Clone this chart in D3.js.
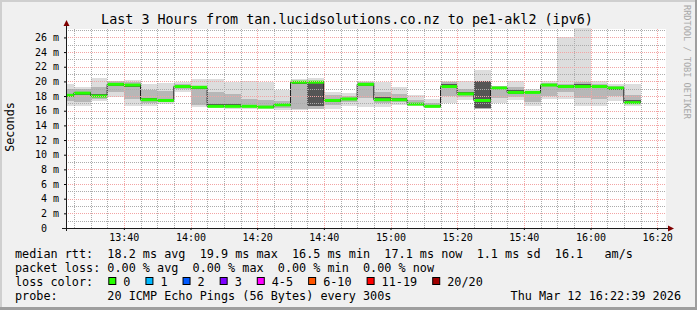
<!DOCTYPE html>
<html>
<head>
<meta charset="utf-8">
<script src="https://cdn.jsdelivr.net/npm/d3@7"></script>
<style>
body { margin: 0; background: #f0f0f0; }
text { font-family: "DejaVu Sans Mono", monospace; fill: #000; }
</style>
</head>
<body>
<div id="chart"></div>
<script>
let wSvg = 697; let hSvg = 310;
let xLeft = 66; let xRight = 666;
let yTop = 29; let yBottom = 228;

// time window (minutes since midnight): 13:22:39 -> 16:22:39
const windowStart = "13:22:39";
const windowEnd = "16:22:39";

// 5 minute buckets, labelled by their end time
const bucketEnd = ["13:25","13:30","13:35","13:40","13:45","13:50","13:55","14:00","14:05","14:10",
    "14:15","14:20","14:25","14:30","14:35","14:40","14:45","14:50","14:55","15:00",
    "15:05","15:10","15:15","15:20","15:25","15:30","15:35","15:40","15:45","15:50",
    "15:55","16:00","16:05","16:10","16:15"];

// median rtt in ms
const median = [18.1,18.4,18.0,19.6,19.5,17.5,17.4,19.3,19.2,16.6,
    16.6,16.6,16.5,16.8,19.9,19.9,17.4,17.6,19.6,17.5,
    17.5,16.9,16.6,19.3,18.3,17.4,19.1,18.5,18.5,19.5,
    19.3,19.3,19.3,19.1,17.1];

// smoke: spread of the 20 pings (ms)
const pingLo  = [16.7,16.6,17.3,17.9,16.7,16.6,16.9,18.6,16.5,16.4,16.3,16.3,16.3,16.1,16.1,16.2,16.2,16.6,16.5,16.5,16.8,16.6,16.4,17.0,17.4,16.2,17.0,17.5,16.7,17.6,17.6,16.6,16.6,17.3,16.6];
const pingQ1  = [17.3,17.2,17.6,18.6,17.6,17.0,17.2,19.0,16.8,16.5,16.5,16.5,16.4,16.4,16.3,16.3,16.8,17.2,17.8,17.0,17.2,16.8,16.5,18.0,17.9,16.3,17.8,17.9,17.2,18.0,18.6,17.8,17.6,18.0,17.0];
const pingIn1 = [17.9,18.2,17.9,19.4,19.3,17.3,17.3,19.2,19.0,16.5,16.5,16.5,16.4,16.7,19.6,16.6,17.2,17.5,19.4,17.3,17.4,16.8,16.5,19.2,18.2,16.4,18.9,18.3,18.4,19.4,19.1,19.2,19.2,18.8,17.0];
const pingIn2 = [18.3,18.6,18.3,19.8,19.7,17.7,17.6,19.4,19.3,16.9,16.9,16.8,16.7,16.9,20.0,20.0,17.5,17.7,19.7,17.9,17.7,17.0,16.8,19.6,18.6,20.0,19.3,18.8,18.6,19.6,19.5,19.6,19.4,19.2,17.4];
const pingQ3  = [18.9,18.9,19.3,20.0,19.9,18.8,18.7,19.6,19.4,18.6,18.3,17.6,17.4,17.3,20.1,20.1,18.1,18.0,19.9,18.6,18.3,17.4,17.0,19.9,19.0,20.1,19.4,19.2,18.7,19.8,19.7,19.9,19.6,19.4,18.1];
const pingHi  = [19.7,19.2,20.4,20.1,20.2,19.7,19.8,19.9,20.3,20.3,19.9,20.0,19.9,18.8,20.3,20.4,18.6,18.4,20.0,19.9,19.2,18.1,17.6,20.0,20.0,21.6,19.4,20.0,18.9,20.1,26.0,27.3,20.0,19.7,19.6];

// lost pings per bucket (out of 20)
const lossCount = [0,0,0,0,0,0,0,0,0,0,0,0,0,0,0,0,0,0,0,0,0,0,0,0,0,0,0,0,0,0,0,0,0,0,0];

const lossLabels = ["0","1","2","3","4-5","6-10","11-19","20/20"];
const lossColors = ["#26ff00","#00b8ff","#0059ff","#7e00ff","#ff00ff","#ff5500","#ff0000","#a10000"];
const lossMax = [0,1,2,3,5,10,19,20];

const yTicks = [0,2,4,6,8,10,12,14,16,18,20,22,24,26];
const xTicks = ["13:40","14:00","14:20","14:40","15:00","15:20","15:40","16:00","16:20"];

const legendLines = [
    "median rtt:  18.2 ms avg  19.9 ms max  16.5 ms min  17.1 ms now  1.1 ms sd  16.1   am/s",
    "packet loss: 0.00 % avg  0.00 % max  0.00 % min  0.00 % now"
];
const probeText = "probe:       20 ICMP Echo Pings (56 Bytes) every 300s";
const stampText = "Thu Mar 12 16:22:39 2026";
const titleText = "Last 3 Hours from tan.lucidsolutions.co.nz to pe1-akl2 (ipv6)";

function toMin(s) {
    let p = s.split(":").map(Number);
    return p[0] * 60 + p[1] + (p[2] || 0) / 60;
}
function fmtMin(m) {
    let h = Math.floor(m / 60), mm = Math.round(m % 60);
    return String(h).padStart(2, "0") + ":" + String(mm).padStart(2, "0");
}

const buckets = bucketEnd.map((t, i) => ({
    end: toMin(t), start: toMin(t) - 5,
    med: median[i], lo: pingLo[i], q1: pingQ1[i], in1: pingIn1[i],
    in2: pingIn2[i], q3: pingQ3[i], hi: pingHi[i], loss: lossCount[i]
}));

let svg = d3.select("#chart")
    .append("svg")
    .attr("width", wSvg)
    .attr("height", hSvg)
    .style("display", "block");

// background + 3d frame
svg.append("rect").attr("width", wSvg).attr("height", hSvg).attr("fill", "#f0f0f0");
svg.append("rect").attr("x", 0).attr("y", 0).attr("width", wSvg).attr("height", 2).attr("fill", "#cfcfcf");
svg.append("rect").attr("x", 0).attr("y", 0).attr("width", 2).attr("height", hSvg).attr("fill", "#cfcfcf");
svg.append("rect").attr("x", 0).attr("y", hSvg - 3).attr("width", wSvg).attr("height", 3).attr("fill", "#9e9e9e");
svg.append("rect").attr("x", wSvg - 2).attr("y", 0).attr("width", 2).attr("height", hSvg).attr("fill", "#9e9e9e");

const xScale = d3.scaleLinear()
    .domain([toMin(windowStart), toMin(windowEnd)])
    .range([xLeft, xRight]);

const yScale = d3.scaleLinear()
    .domain([0, 27.15])
    .range([yBottom, yTop]);

// canvas
svg.append("rect")
    .attr("x", xLeft).attr("y", yTop)
    .attr("width", xRight - xLeft).attr("height", yBottom - yTop)
    .attr("fill", "#ffffff");

svg.append("clipPath").attr("id", "plotClip")
    .append("rect")
    .attr("x", xLeft).attr("y", yTop - 1)
    .attr("width", xRight - xLeft).attr("height", yBottom - yTop + 1);

const plot = svg.append("g").attr("clip-path", "url(#plotClip)");

// smoke, outer to inner
const smokeBands = [
    { a: "lo", b: "hi", color: "#dddddd" },
    { a: "q1", b: "q3", color: "#b7b7b7" },
    { a: "in1", b: "in2", color: "#555555" }
];
smokeBands.forEach(band => {
    plot.append("g")
        .selectAll("rect")
        .data(buckets)
        .enter()
        .append("rect")
        .attr("x", d => xScale(d.start))
        .attr("width", d => xScale(d.end) - xScale(d.start))
        .attr("y", d => yScale(d[band.b]))
        .attr("height", d => yScale(d[band.a]) - yScale(d[band.b]))
        .attr("fill", band.color)
        .attr("shape-rendering", "crispEdges");
});

// median step line
const stepPoints = buckets.map(d => [d.start, d.med]);
stepPoints.push([buckets[buckets.length - 1].end, buckets[buckets.length - 1].med]);
const lineGenerator = d3.line()
    .x(d => xScale(d[0]))
    .y(d => yScale(d[1]))
    .curve(d3.curveStepAfter);
plot.append("path")
    .datum(stepPoints)
    .attr("d", lineGenerator)
    .attr("fill", "none")
    .attr("stroke", "#202020")
    .attr("stroke-width", 1);

function lossColor(n) {
    for (let i = 0; i < lossMax.length; i++) {
        if (n <= lossMax[i]) return lossColors[i];
    }
    return lossColors[lossColors.length - 1];
}

// loss coloured median band
plot.append("g")
    .selectAll("rect")
    .data(buckets)
    .enter()
    .append("rect")
    .attr("x", d => xScale(d.start))
    .attr("width", d => xScale(d.end) - xScale(d.start))
    .attr("y", d => yScale(d.med) - 1.5)
    .attr("height", 3)
    .attr("fill", d => lossColor(d.loss));

// grid (drawn over the graph like rrdtool)
const grid = svg.append("g").attr("stroke-dasharray", "1,1").attr("shape-rendering", "crispEdges");
const minorX = d3.range(toMin("13:25"), toMin(windowEnd), 5);
const majorX = xTicks.map(toMin);
grid.selectAll("line.vmin")
    .data(minorX.filter(m => !majorX.includes(m)))
    .enter().append("line")
    .attr("x1", d => Math.round(xScale(d)) + 0.5).attr("x2", d => Math.round(xScale(d)) + 0.5)
    .attr("y1", yTop).attr("y2", yBottom)
    .attr("stroke", "#ababab");
grid.selectAll("line.hmin")
    .data(d3.range(1, 28).filter(v => v % 2 === 1))
    .enter().append("line")
    .attr("x1", xLeft).attr("x2", xRight)
    .attr("y1", d => Math.round(yScale(d)) + 0.5).attr("y2", d => Math.round(yScale(d)) + 0.5)
    .attr("stroke", "#ababab");
grid.selectAll("line.vmaj")
    .data(majorX)
    .enter().append("line")
    .attr("x1", d => Math.round(xScale(d)) + 0.5).attr("x2", d => Math.round(xScale(d)) + 0.5)
    .attr("y1", yTop).attr("y2", yBottom)
    .attr("stroke", "#f2a4a4");
grid.selectAll("line.hmaj")
    .data(yTicks.filter(v => v > 0))
    .enter().append("line")
    .attr("x1", xLeft).attr("x2", xRight)
    .attr("y1", d => Math.round(yScale(d)) + 0.5).attr("y2", d => Math.round(yScale(d)) + 0.5)
    .attr("stroke", "#f2a4a4");

// axes
const axisBottom = d3.axisBottom(xScale)
    .tickValues(majorX)
    .tickFormat(fmtMin)
    .tickSizeInner(2).tickSizeOuter(0).tickPadding(4);
const gx = svg.append("g")
    .attr("transform", `translate(0, ${yBottom})`)
    .call(axisBottom)
    .style("font-family", "DejaVu Sans Mono")
    .style("font-size", "10px");
gx.select(".domain").remove();

const axisLeft = d3.axisLeft(yScale)
    .tickValues(yTicks)
    .tickFormat(d => d === 0 ? "0" : d + " m")
    .tickSizeInner(2).tickSizeOuter(0).tickPadding(5);
const gy = svg.append("g")
    .attr("transform", `translate(${xLeft}, 0)`)
    .call(axisLeft)
    .style("font-family", "DejaVu Sans Mono")
    .style("font-size", "10px");
gy.select(".domain").remove();
gy.selectAll(".tick").filter(d => d === 0).select("text").attr("x", -19);

svg.append("line")
    .attr("x1", xLeft - 4).attr("x2", xRight + 3)
    .attr("y1", yBottom + 0.5).attr("y2", yBottom + 0.5)
    .attr("stroke", "#1a1a1a");
svg.append("line")
    .attr("x1", xLeft + 0.5).attr("x2", xLeft + 0.5)
    .attr("y1", yBottom + 3).attr("y2", yTop - 4)
    .attr("stroke", "#1a1a1a");
svg.append("path")
    .attr("d", `M${xRight + 2},${yBottom - 2.5} L${xRight + 8},${yBottom + 0.5} L${xRight + 2},${yBottom + 3.5} Z`)
    .attr("fill", "#7f0000");
svg.append("path")
    .attr("d", `M${xLeft - 2.5},${yTop - 3} L${xLeft + 0.5},${yTop - 9} L${xLeft + 3.5},${yTop - 3} Z`)
    .attr("fill", "#7f0000");

// title & labels
svg.append("text")
    .attr("x", 347).attr("y", 24)
    .attr("text-anchor", "middle")
    .style("font-size", "13.4px")
    .text(titleText);

svg.append("text")
    .attr("transform", "translate(14, 127) rotate(-90)")
    .attr("text-anchor", "middle")
    .style("font-size", "11.8px")
    .text("Seconds");

svg.append("text")
    .attr("transform", "translate(684, 5) rotate(90)")
    .attr("text-anchor", "start")
    .style("font-size", "8.6px")
    .style("fill", "#a8a8a8")
    .text("RRDTOOL / TOBI OETIKER");

// legend
const legend = svg.append("g").style("font-size", "11.8px");
legendLines.forEach((line, i) => {
    legend.append("text")
        .attr("x", 15).attr("y", 258 + i * 14)
        .attr("xml:space", "preserve")
        .style("white-space", "pre")
        .text(line);
});
legend.append("text").attr("x", 15).attr("y", 286).text("loss color:");

let charW = 7.12;
let bx = 108.3;
lossLabels.forEach((lab, i) => {
    legend.append("rect")
        .attr("x", bx + 0.5).attr("y", 277.5)
        .attr("width", 7).attr("height", 7)
        .attr("fill", lossColors[i])
        .attr("stroke", "#000").attr("stroke-width", 1);
    legend.append("text").attr("x", bx + 15).attr("y", 286).text(lab);
    bx = bx + 15 + lab.length * charW + 15;
});

legend.append("text")
    .attr("x", 15).attr("y", 300)
    .attr("xml:space", "preserve")
    .style("white-space", "pre")
    .text(probeText);
legend.append("text")
    .attr("x", 681).attr("y", 300)
    .attr("text-anchor", "end")
    .text(stampText);
</script>
</body>
</html>
